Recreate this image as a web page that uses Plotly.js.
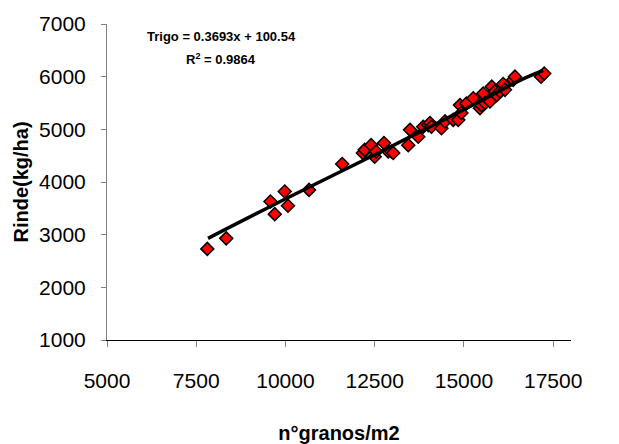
<!DOCTYPE html>
<html>
<head>
<meta charset="utf-8">
<script src="https://cdn.plot.ly/plotly-3.0.1.min.js"></script>
<style>html,body{margin:0;padding:0;background:#fff;}#chart{width:619px;height:444px;}</style>
</head>
<body>
<div id="chart"></div>
<script>
// Observed points: grains per m2 vs yield (kg/ha)
const granos = [7810, 8340, 9580, 9700, 9980, 10070, 10660, 11590, 12170, 12220, 12400, 12500, 12540, 12760, 12880, 12970, 13020, 13440, 13490, 13720, 13860, 14000, 14050, 14090, 14370, 14470, 14700, 14840, 14890, 14930, 15070, 15260, 15450, 15490, 15540, 15590, 15730, 15780, 15870, 15920, 16010, 16100, 16150, 16380, 16430, 17160, 17250];
const rinde  = [2730, 2930, 3630, 3390, 3820, 3550, 3850, 4340, 4550, 4610, 4700, 4480, 4580, 4740, 4580, 4580, 4550, 4700, 4990, 4860, 5050, 5080, 5120, 5050, 5020, 5150, 5180, 5180, 5460, 5310, 5490, 5590, 5400, 5460, 5680, 5500, 5530, 5810, 5720, 5650, 5720, 5860, 5750, 5940, 6000, 6000, 6060];
// Trend line as drawn in the picture
const fitX = [7830, 10120, 12600, 14050, 15450, 16570, 17220];
const fitY = [2930, 3720, 4550, 5050, 5530, 5930, 6120];
const xTicks = [5000, 7500, 10000, 12500, 15000, 17500];
const yTicks = [1000, 2000, 3000, 4000, 5000, 6000, 7000];
const eqLine1 = "Trigo = 0.3693x + 100.54";
const eqLine2 = "R<sup>2</sup> = 0.9864";

const fam = "Liberation Sans, Arial, sans-serif";

const data = [
  {x: granos, y: rinde, type: "scatter", mode: "markers", name: "Trigo",
   marker: {symbol: "diamond", size: 10, color: "#ff0000", line: {color: "#000000", width: 1.5}}},
  {x: fitX, y: fitY, type: "scatter", mode: "lines", name: "Lineal",
   line: {color: "#000000", width: 3.5, shape: "spline"}}
];

const layout = {
  width: 619, height: 444,
  margin: {l: 107, r: 48, t: 24, b: 104, pad: 0},
  paper_bgcolor: "#ffffff", plot_bgcolor: "#ffffff",
  showlegend: false,
  font: {family: fam, color: "#000000"},
  xaxis: {
    range: [5000, 18000], tickvals: xTicks, ticktext: xTicks.map(String),
    showgrid: false, zeroline: false, showline: true, linecolor: "#000000", linewidth: 1,
    ticks: "outside", ticklen: 6, tickcolor: "#808080", tickwidth: 1,
    ticklabelstandoff: 16,
    tickfont: {family: fam, size: 21, color: "#000000"},
    title: {text: "n°granos/m2", font: {family: fam, size: 20, color: "#000000", weight: "bold"}, standoff: 34}
  },
  yaxis: {
    range: [1000, 7000], tickvals: yTicks, ticktext: yTicks.map(String),
    showgrid: false, zeroline: false, showline: true, linecolor: "#808080", linewidth: 1,
    ticks: "outside", ticklen: 5, tickcolor: "#808080", tickwidth: 1,
    ticklabelstandoff: 11,
    tickfont: {family: fam, size: 21, color: "#000000"},
    title: {text: "Rinde(kg/ha)", font: {family: fam, size: 20, color: "#000000", weight: "bold"}, standoff: 5}
  },
  annotations: [
    {text: eqLine1, xref: "paper", yref: "paper", x: 0.246, y: 0.96,
     xanchor: "center", yanchor: "middle", showarrow: false,
     font: {family: fam, size: 13, color: "#000000", weight: "bold"}},
    {text: eqLine2, xref: "paper", yref: "paper", x: 0.246, y: 0.89,
     xanchor: "center", yanchor: "middle", showarrow: false,
     font: {family: fam, size: 13, color: "#000000", weight: "bold"}}
  ]
};

Plotly.newPlot("chart", data, layout, {displayModeBar: false, staticPlot: true});
</script>
</body>
</html>
